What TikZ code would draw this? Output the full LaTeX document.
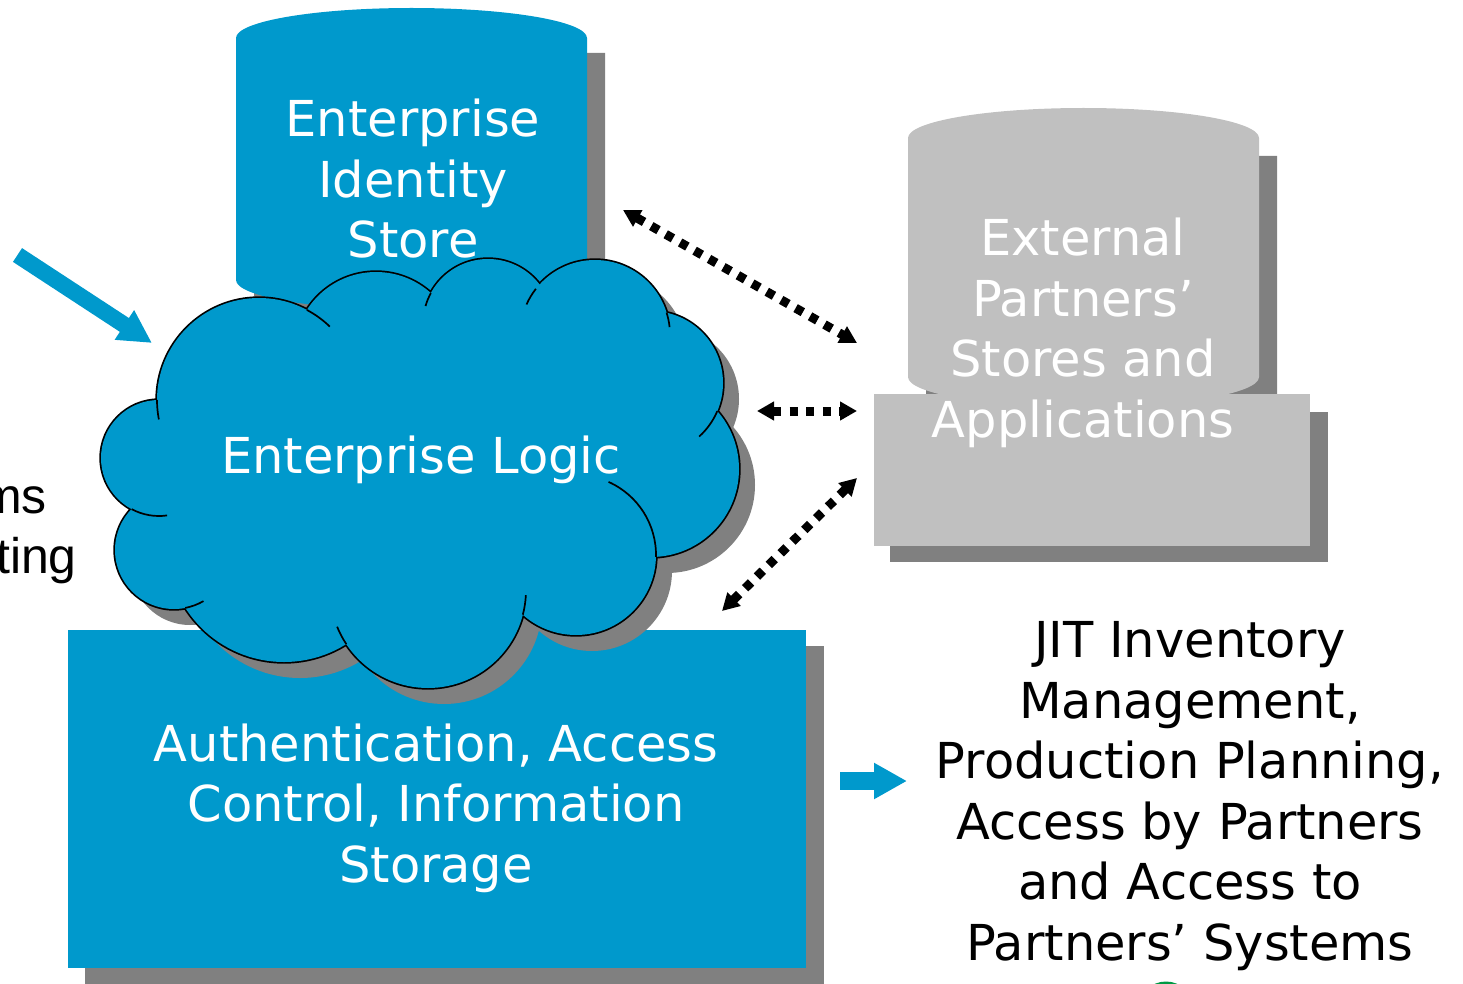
\documentclass[tikz,border=0pt]{standalone}
\usepackage{fontspec}
\setmainfont{DejaVu Sans}
\newfontfamily\arialfont{Liberation Sans}
\usetikzlibrary{arrows.meta}

\definecolor{brandblue}{RGB}{0,153,204}
\definecolor{lightgrey}{RGB}{192,192,192}
\definecolor{shadowgrey}{RGB}{128,128,128}
\definecolor{leafgreen}{RGB}{0,153,68}

% lobes of the cloud (circles) and the polygon that fills its middle
\newcommand{\cloudlobes}{%
  (259,400) circle[radius=102]
  (376,354) circle[radius=82]
  (488,324) circle[radius=65]
  (595,335) circle[radius=75]
  (651,383) circle[radius=72]
  (651,469) circle[radius=88]
  (576,555) circle[radius=80]
  (428,590) circle[radius=98]
  (284,545) circle[radius=117]
  (174,550) circle[radius=59]
  (159,458) circle[radius=58]}
\newcommand{\cloudcore}{%
  (259,400) -- (376,354) -- (488,324) -- (595,335) -- (651,383) -- (651,469)
  -- (576,555) -- (428,590) -- (284,545) -- (174,550) -- (159,458) -- cycle}

\begin{document}
\begin{tikzpicture}[yscale=-1, x=1pt, y=1pt,
  bigtext/.style={font=\fontsize{49.5}{60.5}\selectfont, align=center, inner sep=0pt},
  whitetext/.style={bigtext, text=white},
  blacktext/.style={bigtext, text=black},
  sidetext/.style={font=\arialfont\fontsize{50}{60}\selectfont, text=black, inner sep=0pt, anchor=base east},
  cloudline/.style={draw=black, line width=1.7pt},
  dotlink/.style={draw=black, line width=9pt, dash pattern=on 8.3pt off 8.3pt,
    {Triangle[length=17pt,width=18pt]}-{Triangle[length=17pt,width=18pt]}},
  fatarrow/.style={draw=brandblue, line width=#1}
]
\useasboundingbox (0,0) rectangle (1463,984);
\clip (0,0) rectangle (1463,984);

% enterprise identity store (cylinder)
\fill[shadowgrey] (254,53) -- (254,295)
  arc[start angle=180, end angle=0, x radius=175.5, y radius=30] -- (605,53) -- cycle;
\fill[brandblue] (236,38) -- (236,280)
  arc[start angle=180, end angle=0, x radius=175.5, y radius=30] -- (587,38)
  arc[start angle=0, end angle=-180, x radius=175.5, y radius=30] -- cycle;

% external partners' stores (cylinder) and applications (box)
\fill[shadowgrey] (926,156) -- (926,395)
  arc[start angle=180, end angle=0, x radius=175.5, y radius=30] -- (1277,156) -- cycle;
\fill[lightgrey] (908,138) -- (908,377)
  arc[start angle=180, end angle=0, x radius=175.5, y radius=30] -- (1259,138)
  arc[start angle=0, end angle=-180, x radius=175.5, y radius=30] -- cycle;
\fill[shadowgrey] (890,412) rectangle (1328,562);
\fill[lightgrey] (874,394) rectangle (1310,546);

% authentication / storage box
\fill[shadowgrey] (85,646) rectangle (824,990);
\fill[brandblue] (68,630) rectangle (806,968);

% enterprise logic cloud: shadow, outline, fill, inner lobe strokes
\fill[shadowgrey, shift={(16,16)}] \cloudlobes;
\fill[shadowgrey, shift={(16,16)}] \cloudcore;
\draw[line width=3.4pt] \cloudlobes;
\fill[brandblue] \cloudlobes;
\fill[brandblue] \cloudcore;
\draw[cloudline] (259,400) ++(-62:102) arc[start angle=-62, end angle=-46, radius=102];
\draw[cloudline] (259,400) ++(180:102) arc[start angle=180, end angle=169, radius=102];
\draw[cloudline] (488,324) ++(-151.6:65) arc[start angle=-151.6, end angle=-164, radius=65];
\draw[cloudline] (595,335) ++(-142:75) arc[start angle=-142, end angle=-156, radius=75];
\draw[cloudline] (595,335) ++(-17.4:75) arc[start angle=-17.4, end angle=-6, radius=75];
\draw[cloudline] (651,383) ++(23:72) arc[start angle=23, end angle=48, radius=72];
\draw[cloudline] (576,555) ++(1.3:80) arc[start angle=1.3, end angle=-66, radius=80];
\draw[cloudline] (428,590) ++(14.6:98) arc[start angle=14.6, end angle=3, radius=98];
\draw[cloudline] (428,590) ++(146.5:98) arc[start angle=146.5, end angle=158, radius=98];
\draw[cloudline] (174,550) ++(79:59) arc[start angle=79, end angle=60, radius=59];
\draw[cloudline] (159,458) ++(118.2:58) arc[start angle=118.2, end angle=82, radius=58];

% partly visible green mark at the lower edge
\fill[leafgreen] (1166,1009) circle[radius=27.5];

% labels
\node[whitetext] (idstore) at (413,179) {Enterprise\\Identity\\Store};
\node[whitetext] (partners) at (1083,333) {External\\Partners’\\Stores and\\Applications};
\node[whitetext] (logic) at (421,460) {Enterprise Logic};
\node[whitetext] (auth) at (436,808) {Authentication, Access\\Control, Information\\Storage};
\node[blacktext] (uses) at (1190,796) {JIT Inventory\\Management,\\Production Planning,\\Access by Partners\\and Access to\\Partners’ Systems};
\node[sidetext] (sideA) at (47,513) {ms};
\node[sidetext] (sideB) at (77,573) {ting};

% connector end points
\coordinate (inA) at (17.5,255);
\coordinate (inB) at (152,343);
\coordinate (outA) at (840,781);
\coordinate (outB) at (907,781);
\coordinate (storeEnd) at (623,210);
\coordinate (extTop) at (857,343);
\coordinate (logicEnd) at (757,411);
\coordinate (extMid) at (857,411);
\coordinate (extLow) at (857,478);
\coordinate (authEnd) at (722,611);

% blue flow arrows
\draw[fatarrow=16.5pt, -{Triangle[length=33pt,width=33pt]}] (inA) -- (inB);
\draw[fatarrow=18pt, -{Triangle[length=33pt,width=34pt]}] (outA) -- (outB);

% dotted two-way links to the partners
\draw[dotlink] (storeEnd) -- (extTop);
\draw[dotlink] (logicEnd) -- (extMid);
\draw[dotlink] (extLow) -- (authEnd);
\end{tikzpicture}
\end{document}
